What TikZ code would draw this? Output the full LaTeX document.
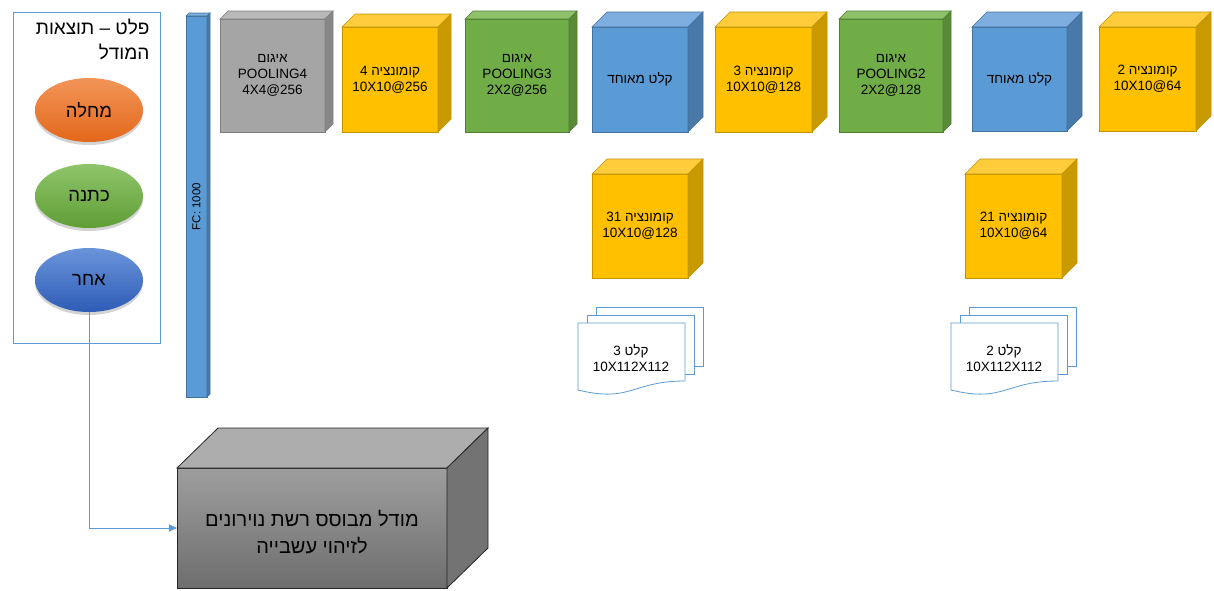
\documentclass[tikz,border=0pt]{standalone}
\usepackage{fontspec}
\setmainfont{Liberation Sans}
\newfontfamily\hebfont[Script=Hebrew]{Liberation Sans}
\TeXXeTstate=1
\usetikzlibrary{arrows.meta,shapes.geometric,shadows}
\newcommand{\heb}[1]{{\hebfont\beginR #1\endR}}
\newcommand{\ltr}[1]{\beginL #1\endL{}}
\definecolor{cline}{HTML}{5B9BD5}
\definecolor{cblue}{HTML}{5B9BD5}\definecolor{cbluetop}{HTML}{7DAEDF}\definecolor{cblueside}{HTML}{4879A8}\definecolor{cblueedge}{HTML}{41719C}
\definecolor{cyel}{HTML}{FFC000}\definecolor{cyeltop}{HTML}{FFCD3C}\definecolor{cyelside}{HTML}{C99A00}\definecolor{cyeledge}{HTML}{C39300}
\definecolor{cgreen}{HTML}{70AD47}\definecolor{cgreentop}{HTML}{8DC26A}\definecolor{cgreenside}{HTML}{588A37}\definecolor{cgreenedge}{HTML}{507E32}
\definecolor{cgray}{HTML}{A5A5A5}\definecolor{cgraytop}{HTML}{B8B8B8}\definecolor{cgrayside}{HTML}{878787}\definecolor{cgrayedge}{HTML}{7F7F7F}
\definecolor{eorangetop}{HTML}{F29559}\definecolor{eorangebot}{HTML}{E3671A}
\definecolor{egreentop}{HTML}{8FC56A}\definecolor{egreenbot}{HTML}{5F9E35}
\definecolor{ebluetop}{HTML}{6A94DA}\definecolor{ebluebot}{HTML}{2E5CB6}
% block: front face as a node, top and side faces drawn from its anchors
\newcommand{\cnnblock}[8]{% name, x, y, width, height, depth, colour, text
  \node[face=#7, minimum width=#4, minimum height=#5] (#1) at (#2,#3) {#8};
  \filldraw[fill=#7top, draw=#7edge, line width=0.6pt] (#1.north west) -- ++(#6,-#6) -- ([shift={(#6,-#6)}]#1.north east) -- (#1.north east) -- cycle;
  \filldraw[fill=#7side, draw=#7edge, line width=0.6pt] (#1.north east) -- ++(#6,-#6) -- ([shift={(#6,-#6)}]#1.south east) -- (#1.south east) -- cycle;}
% stack of three pages, the front one with a wavy bottom
\newcommand{\docstack}[4]{% name, x, y, text
  \begin{scope}[shift={(#2,#3)}]
    \filldraw[page] (18,-16) rectangle (125,43);
    \filldraw[page] (9,-8) rectangle (116,51);
    \filldraw[page] (0,0) -- (107,0) -- (107,58) .. controls (53.5,58) and (53.5,80) .. (0,67) -- cycle;
    \node[align=center, font=\fontsize{13.5}{16}\selectfont] (#1) at (53,35) {#4};
  \end{scope}}

\begin{document}
\begin{tikzpicture}[x=1pt, y=-1pt,
    face/.style={draw=#1edge, fill=#1, line width=0.6pt, anchor=north west, inner sep=0pt, outer sep=0pt,
      align=center, font=\fontsize{13.5}{16}\selectfont},
    page/.style={draw=cline, fill=white, line width=0.8pt},
    result/.style={ellipse, minimum width=108, minimum height=64, inner sep=0pt,
      font=\fontsize{18.5}{22}\selectfont, drop shadow={opacity=0.35, shadow xshift=0pt, shadow yshift=-3pt}},
    conn/.style={draw=cline, line width=0.8pt}]
  \useasboundingbox (0,0) rectangle (1214,590);
  % results panel
  \node[draw=cline, line width=0.8pt, anchor=north west, minimum width=147, minimum height=331] (panel) at (13,12) {};
  \node[anchor=north east, align=right, font=\fontsize{19}{25}\selectfont] (title) at (153,16)
       {\heb{פלט – תוצאות}\\\heb{המודל}};
  \node[result, top color=eorangetop, bottom color=eorangebot] (disease) at (89,110) {\heb{מחלה}};
  \node[result, top color=egreentop, bottom color=egreenbot] (crop) at (89,196) {\heb{כתנה}};
  \node[result, top color=ebluetop, bottom color=ebluebot] (other) at (89,280) {\heb{אחר}};
  % fully connected layer
  \cnnblock{fc}{186}{16}{21}{381}{3}{cblue}{}
  \node[rotate=90, font=\fontsize{11.5}{14}\selectfont] (fclabel) at (fc.center) {FC: 1000};
  % top row
  \cnnblock{pool4}{220}{19}{105}{113}{8}{cgray}{\heb{איגום}\\POOLING4\\4X4@256}
  \cnnblock{conv4}{342}{27}{96}{105}{13}{cyel}{\heb{קומונציה \ltr{4}}\\10X10@256}
  \cnnblock{pool3}{465}{19}{104}{113}{8}{cgreen}{\heb{איגום}\\POOLING3\\2X2@256}
  \cnnblock{merge3}{592}{27}{96}{105}{15}{cblue}{\heb{קלט מאוחד}}
  \cnnblock{conv3}{715}{27}{97}{105}{15}{cyel}{\heb{קומונציה \ltr{3}}\\10X10@128}
  \cnnblock{pool2}{839}{19}{104}{113}{8}{cgreen}{\heb{איגום}\\POOLING2\\2X2@128}
  \cnnblock{merge2}{972}{27}{95}{104}{15}{cblue}{\heb{קלט מאוחד}}
  \cnnblock{conv2}{1099}{27}{97}{104}{15}{cyel}{\heb{קומונציה \ltr{2}}\\10X10@64}
  % second row
  \cnnblock{conv31}{592}{174}{96}{104}{15}{cyel}{\heb{קומונציה \ltr{31}}\\10X10@128}
  \cnnblock{conv21}{965}{174}{97}{104}{15}{cyel}{\heb{קומונציה \ltr{21}}\\10X10@64}
  % inputs
  \docstack{input3}{578}{323}{\heb{קלט \ltr{3}}\\10X112X112}
  \docstack{input2}{951}{323}{\heb{קלט \ltr{2}}\\10X112X112}
  % model box
  \node[draw=black!85, line width=0.8pt, anchor=north west, minimum width=270, minimum height=120, inner sep=0pt,
        outer sep=0pt, top color=black!38, bottom color=black!57, align=center,
        font=\fontsize{20}{27}\selectfont] (model) at (177,468)
       {\rule{0pt}{24pt}\heb{מודל מבוסס רשת נוירונים}\\\heb{לזיהוי עשבייה}};
  \filldraw[fill=black!32, draw=black!85, line width=0.8pt] (model.north west) -- ++(41,-40) -- ([shift={(41,-40)}]model.north east) -- (model.north east) -- cycle;
  \filldraw[fill=black!55, draw=black!85, line width=0.8pt] (model.north east) -- ++(41,-40) -- ([shift={(41,-40)}]model.south east) -- (model.south east) -- cycle;
  % connector
  \draw[conn, -{Triangle[length=8pt, width=7pt]}] (other.south) |- (model.west);
\end{tikzpicture}
\end{document}
